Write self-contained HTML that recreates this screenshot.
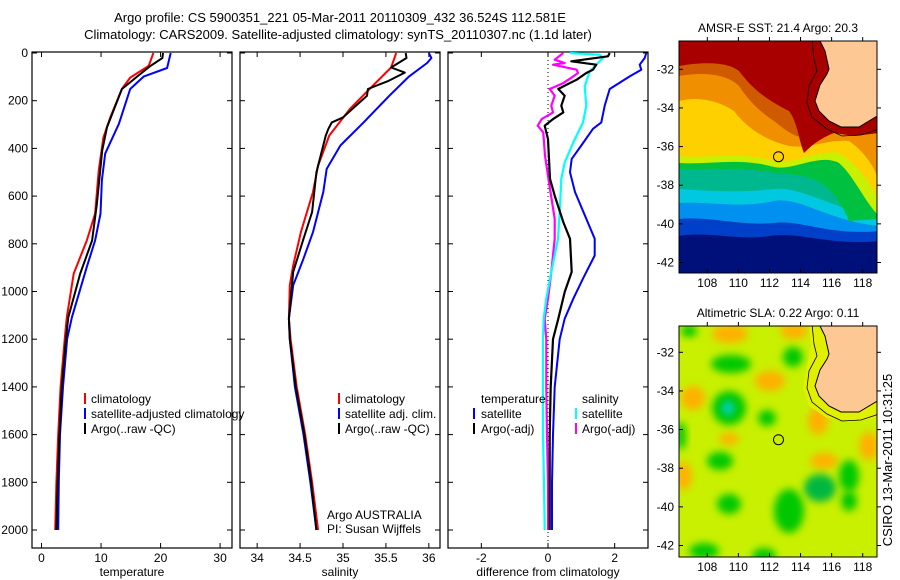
<!DOCTYPE html>
<html><head><meta charset="utf-8"><style>
body{margin:0;background:#fff}
svg{display:block;font-family:"Liberation Sans",sans-serif}
</style></head><body>
<svg id="fig" width="900" height="580" viewBox="0 0 900 580">
<text x="340" y="22" font-size="13" text-anchor="middle">Argo profile: CS 5900351_221 05-Mar-2011 20110309_432 36.524S 112.581E</text>
<text x="338" y="39" font-size="13" text-anchor="middle">Climatology: CARS2009. Satellite-adjusted climatology: synTS_20110307.nc (1.1d later)</text>
<text transform="translate(892,460) rotate(-90)" font-size="13" text-anchor="middle">CSIRO 13-Mar-2011 10:31:25</text>
</svg>
<script>
// ---------- data ----------
const depthTicks=[0,200,400,600,800,1000,1200,1400,1600,1800,2000];
const tempTicks=[0,10,20,30];
const salTicks=[34,34.5,35,35.5,36];
const diffTicks=[-2,0,2];
const tempClimD=[0,54,103,151,270,354,494,674,786,925,1108,1200,1400,1600,1800,2000];
const tempClimV=[18.8,18.0,14.9,13.5,11.55,10.4,9.6,9.0,7.6,5.4,4.25,3.9,3.2,2.8,2.5,2.3];
const tempSatD=[0,63,98,151,297,422,533,674,786,897,1108,1200,1400,1600,1800,2000];
const tempSatV=[21.7,21.1,17.2,14.9,13.0,10.7,10.15,9.9,9.0,7.6,5.1,4.3,3.6,3.1,2.9,2.8];
const tempArgoD=[0,21,54,98,151,311,409,632,786,925,1108,1200,1400,1600,1800,2000];
const tempArgoV=[20.4,20.3,18.3,16.1,13.5,11.0,10.2,9.3,8.5,6.5,4.5,4.1,3.4,3.0,2.7,2.5];
const salClimD=[0,61,151,235,346,472,583,751,890,974,1114,1200,1400,1600,1800,2000];
const salClimV=[35.62,35.56,35.31,35.08,34.84,34.71,34.65,34.51,34.42,34.38,34.37,34.39,34.46,34.56,34.64,34.71];
const salSatD=[0,21,42,98,179,291,388,486,583,751,862,974,1114,1200,1400,1600,1800,2000];
const salSatV=[36.0,36.03,35.98,35.77,35.54,35.24,34.97,34.81,34.77,34.65,34.54,34.42,34.37,34.38,34.44,34.54,34.62,34.69];
const salArgoD=[0,21,61,82,117,151,179,270,291,318,346,500,667,779,918,1114,1200,1400,1600,1800,2000];
const salArgoV=[35.73,35.74,35.56,35.72,35.53,35.29,35.28,35.0,34.87,34.83,34.8,34.69,34.64,34.54,34.42,34.37,34.38,34.45,34.55,34.63,34.69];
const dTempSatD=[0,21,49,70,98,151,221,291,318,388,444,500,583,695,779,849,946,1030,1114,1200,1400,1600,1800,2000];
const dTempSatV=[2.95,2.9,2.75,2.8,2.45,1.85,1.7,1.6,1.35,1.0,0.71,0.66,0.81,1.15,1.4,1.4,1.05,0.76,0.5,0.35,0.2,0.15,0.12,0.12];
const dTempArgoD=[0,14,35,49,70,84,112,140,151,179,221,249,277,305,361,528,598,709,779,918,1002,1114,1200,1400,1600,1800,2000];
const dTempArgoV=[1.85,1.8,0.7,1.45,1.35,1.15,0.86,0.46,0.31,0.5,0.4,0.46,0.15,-0.1,0,0.06,0.2,0.46,0.66,0.71,0.5,0.31,0.15,0.08,0.05,0.05,0.05];
const dSalSatD=[0,7,21,56,77,140,221,291,375,459,528,667,779,918,1030,1114,1200,1400,1600,1800,2000];
const dSalSatV=[0.66,1.55,1.65,1.4,1.25,1.1,1.15,1.05,0.76,0.5,0.4,0.35,0.3,0.1,-0.05,-0.13,-0.15,-0.15,-0.15,-0.12,-0.1];
const dSalArgoD=[0,28,42,49,70,84,98,126,151,179,221,249,277,305,333,430,514,570,695,779,918,1030,1114,1200,1400,1600,1800,2000];
const dSalArgoV=[0.46,0.2,0.5,0.15,0.86,0.9,0.76,0.46,0.05,0.2,0.1,0.15,-0.19,-0.31,-0.14,-0.09,0,0.06,0.2,0.2,0.1,0,-0.1,-0.05,-0.05,-0.03,0,0];
const latTicks=[-32,-34,-36,-38,-40,-42];
const lonTicks=[108,110,112,114,116,118];
const argoLon=112.581, argoLat=-36.524;

const NS='http://www.w3.org/2000/svg';
const fig=document.getElementById('fig');
function mk(tag,attrs,parent){const e=document.createElementNS(NS,tag);for(const k in attrs)e.setAttribute(k,attrs[k]);(parent||fig).appendChild(e);return e;}

const Y0=52,YB=548;
function yD(d){return Y0+1+d*0.2385;}

function panel(x0,x1,xmin,xmax,ticks,fmt,title,name){
  const g=mk('g',{});  
  const xs=v=>x0+(v-xmin)/(xmax-xmin)*(x1-x0);
  const fr=mk('rect',{x:x0,y:Y0,width:x1-x0,height:YB-Y0,fill:'none',stroke:'#000','stroke-width':1.2},g);
   
  depthTicks.forEach(d=>{const y=yD(d);
    mk('line',{x1:x0,x2:x0+5,y1:y,y2:y,stroke:'#000'},g);
    mk('line',{x1:x1-5,x2:x1,y1:y,y2:y,stroke:'#000'},g);
  });
  ticks.forEach(v=>{const x=xs(v);
    mk('line',{x1:x,x2:x,y1:Y0,y2:Y0+5,stroke:'#000'},g);
    mk('line',{x1:x,x2:x,y1:YB-5,y2:YB,stroke:'#000'},g);
    const t=mk('text',{x:x,y:562,'font-size':12,'text-anchor':'middle'},g); t.textContent=fmt(v);
     
  });
  const tt=mk('text',{x:(x0+x1)/2,y:576,'font-size':12,'text-anchor':'middle'},g); tt.textContent=title;
   
  return {g,xs};
}
function line(p,D,V,color,w,name){
  const pts=D.map((d,i)=>p.xs(V[i]).toFixed(1)+','+yD(d).toFixed(1)).join(' ');
  const l=mk('polyline',{points:pts,fill:'none',stroke:color,'stroke-width':w,'stroke-linejoin':'round'},p.g);
   
}
function label(g,x,y,txt,anchor,name,size){const t=mk('text',{x:x,y:y,'font-size':size||12,'text-anchor':anchor||'start'},g);t.textContent=txt;
   return t;}
function legMark(g,x,y,color){mk('rect',{x:x,y:y-10,width:2,height:11,fill:color},g);}

depthTicks.forEach(d=>{label(fig,28,yD(d)+4,String(d),'end','depth-tick-label');});

const p1=panel(32,232,-1.6,32,tempTicks,v=>String(v),'temperature','temperature');
line(p1,tempClimD,tempClimV,'#f00',2,'temp-climatology-line');
line(p1,tempSatD,tempSatV,'#00f',2,'temp-satellite-line');
line(p1,tempArgoD,tempArgoV,'#000',2,'temp-argo-line');
[['climatology','#f00'],['satellite-adjusted climatology','#00f'],['Argo(..raw -QC)','#000']].forEach((e,i)=>{
  legMark(p1.g,84,403+i*15,e[1]);label(p1.g,91,403+i*15,e[0],'start','temp-legend-entry');});

const p2=panel(240,440,33.8,36.13,salTicks,v=>String(v),'salinity','salinity');
line(p2,salClimD,salClimV,'#f00',2,'sal-climatology-line');
line(p2,salSatD,salSatV,'#00f',2,'sal-satellite-line');
line(p2,salArgoD,salArgoV,'#000',2,'sal-argo-line');
[['climatology','#f00'],['satellite adj. clim.','#00f'],['Argo(..raw -QC)','#000']].forEach((e,i)=>{
  legMark(p2.g,338,403+i*15,e[1]);label(p2.g,345,403+i*15,e[0],'start','sal-legend-entry');});
label(p2.g,327,519,'Argo AUSTRALIA','start','argo-australia-note');
label(p2.g,327,533,'PI: Susan Wijffels','start','pi-note');

const p3=panel(448,648,-3,3,diffTicks,v=>String(v),'difference from climatology','difference');
mk('line',{x1:p3.xs(0),x2:p3.xs(0),y1:Y0,y2:YB,stroke:'#000','stroke-dasharray':'1,3'},p3.g);
line(p3,dSalArgoD,dSalArgoV,'#f0f',2.2,'diff-sal-argo-line');
line(p3,dSalSatD,dSalSatV,'#0ff',2.2,'diff-sal-satellite-line');
line(p3,dTempArgoD,dTempArgoV,'#000',2.2,'diff-temp-argo-line');
line(p3,dTempSatD,dTempSatV,'#00f',2,'diff-temp-satellite-line');
label(p3.g,481,403,'temperature','start','diff-legend-temperature-header');
label(p3.g,582,403,'salinity','start','diff-legend-salinity-header');
legMark(p3.g,473,418,'#00f');label(p3.g,481,418,'satellite','start','diff-legend-entry');
legMark(p3.g,473,433,'#000');label(p3.g,481,433,'Argo(-adj)','start','diff-legend-entry');
legMark(p3.g,575,418,'#0ff');label(p3.g,582,418,'satellite','start','diff-legend-entry');
legMark(p3.g,575,433,'#f0f');label(p3.g,582,433,'Argo(-adj)','start','diff-legend-entry');

// ---------- maps ----------
function mapFrame(yTop,yBot,latA,yA,title,name,builder){
  const g=mk('g',{});  
  const x0=679,x1=877;
  const lx=lon=>707.3+(lon-108)*15.54;
  const ly=lat=>yA+(latA-lat)*19.32;
  const cp=mk('clipPath',{id:name+'-clip'},g); mk('rect',{x:0,y:0,width:x1-x0,height:yBot-yTop},cp);
  const inner=mk('g',{'clip-path':'url(#'+name+'-clip)',transform:'translate('+x0+','+yTop+')'},g);
  builder(inner);
  const c=mk('circle',{cx:lx(argoLon),cy:ly(argoLat),r:5,fill:'none',stroke:'#000','stroke-width':1},g);
   
  mk('rect',{x:x0,y:yTop,width:x1-x0,height:yBot-yTop,fill:'none',stroke:'#000','stroke-width':1},g);
  latTicks.forEach(v=>{const y=ly(v);mk('line',{x1:x0,x2:x0+4,y1:y,y2:y,stroke:'#000'},g);mk('line',{x1:x1,x2:x1+4,y1:y,y2:y,stroke:'#000'},g);
    label(g,674,y+4,String(v),'end',name+'-lat-label');});
  lonTicks.forEach(v=>{const x=lx(v);mk('line',{x1:x,x2:x,y1:yTop-4,y2:yTop,stroke:'#000'},g);mk('line',{x1:x,x2:x,y1:yBot,y2:yBot-4,stroke:'#000'},g);
    label(g,x,yBot+14,String(v),'middle',name+'-lon-label');});
  label(g,778,yTop-9,title,'middle',name+'-title');
}
const landPath='M140,-2 L146,10 L150,28 L148,33 L141,44 L136,60 L140,70 L150,80 L162,86 L180,86 L200,74 L200,-2 Z';
const coastPath='M133,-2 L135,18 L138,30 L130,45 L128,62 L133,76 L148,88 L163,95 L182,94 L200,88';
function land(g){mk('path',{d:landPath,fill:'#fec894',stroke:'#000','stroke-width':1},g);
  mk('path',{d:coastPath,fill:'none',stroke:'#000','stroke-width':0.8},g);}

mapFrame(41,273,-32,69.3,'AMSR-E SST: 21.4 Argo: 20.3','sst-map',g=>{
  mk('rect',{x:0,y:0,width:200,height:240,fill:'#00107a'},g);
  const bands=[
   ['#0040c8','M0,195 C30,190 60,200 90,195 C120,190 150,205 200,200 L200,0 L0,0Z'],
   ['#0090f0','M0,178 C30,175 60,185 95,182 C120,178 150,195 200,190 L200,0 L0,0Z'],
   ['#00c8e0','M0,162 C30,160 60,168 95,160 C120,155 150,180 200,185 L200,0 L0,0Z'],
   ['#00b890','M0,148 C30,150 60,152 95,148 C120,145 150,165 200,178 L200,0 L0,0Z'],
   ['#00c040','M0,128 C30,130 60,125 95,132 C120,135 150,130 170,180 L200,178 L200,0 L0,0Z'],
   ['#c8f000','M0,122 C30,124 60,116 95,126 C115,130 140,112 160,122 C175,135 185,160 200,175 L200,0 L0,0Z'],
   ['#ffd000','M0,115 C30,118 60,110 95,120 C115,124 140,108 160,112 C180,125 190,140 200,160 L200,0 L0,0Z'],
   ['#f09000','M0,60 C20,55 40,60 55,70 C70,90 90,100 110,105 C130,108 150,98 170,100 C185,110 195,125 200,140 L200,0 L0,0Z'],
   ['#d05a00','M0,35 C30,30 50,35 60,45 C70,60 80,70 95,80 C110,92 120,100 135,95 L160,85 L200,85 L200,0 L0,0Z'],
   ['#a80000','M0,25 C30,20 50,22 60,30 C75,50 90,60 110,70 C118,80 120,100 125,112 C132,105 140,98 155,92 L175,95 L200,92 L200,0 L0,0Z']
  ];
  bands.forEach(b=>{const p=mk('path',{d:b[1],fill:b[0]},g);});
  land(g);
});

mapFrame(326,557,-32,352.3,'Altimetric SLA: 0.22 Argo: 0.11','sla-map',g=>{
  const defs=mk('defs',{},g);const f=mk('filter',{id:'blr',x:'-50%',y:'-50%',width:'200%',height:'200%'},defs);
  mk('feGaussianBlur',{stdDeviation:4},f);
  mk('rect',{x:0,y:0,width:200,height:240,fill:'#c8f000'},g);
  const blobs=[
   ['#ffb000',51,8,18,9],['#ffb000',91,55,15,10],['#ffb000',14,72,12,12],['#ffb000',139,95,10,14],
   ['#ffb000',190,120,10,14],['#ffb000',5,150,8,14],['#ffb000',145,135,14,8],['#ffb000',115,5,14,8],['#ffb000',50,113,10,6],
   ['#00c800',52,38,20,9],['#00c800',114,31,10,10],['#00c800',50,82,17,17],['#00c800',88,92,9,8],['#00c800',41,135,13,9],
   ['#00b840',141,162,16,14],['#00c800',110,185,15,22],['#00c800',50,178,12,10],['#00c800',170,150,10,16],
   ['#00c800',25,225,15,8],['#00c800',170,175,8,10],['#00c800',2,110,5,14],['#00c800',85,230,12,8],['#00c800',10,5,8,6]
  ];
  blobs.forEach(b=>{const e=mk('ellipse',{cx:b[1],cy:b[2],rx:b[3],ry:b[4],fill:b[0],filter:'url(#blr)'},g);
    });
  mk('ellipse',{cx:49,cy:82,rx:6,ry:7,fill:'#00d0d0',filter:'url(#blr)'},g);
  mk('path',{d:'M130,-2 L132,20 L128,40 L124,62 L130,80 L148,92 L170,96 L200,92 L200,-2Z',fill:'#e0f000'},g);
  land(g);
});
</script>
</body></html>
